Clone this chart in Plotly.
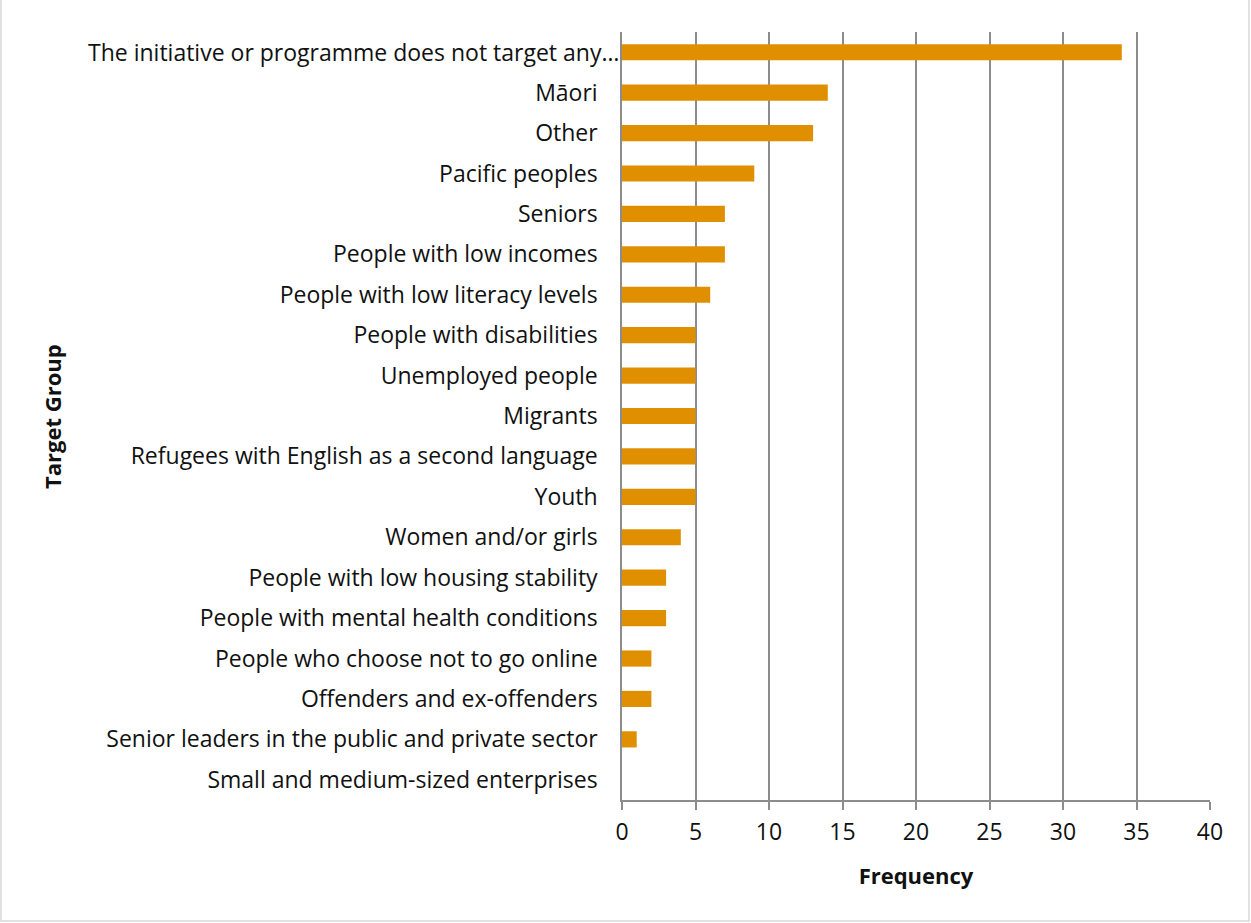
import plotly.graph_objects as go

categories = [
    "The initiative or programme does not target any…",
    "Māori",
    "Other",
    "Pacific peoples",
    "Seniors",
    "People with low incomes",
    "People with low literacy levels",
    "People with disabilities",
    "Unemployed people",
    "Migrants",
    "Refugees with English as a second language",
    "Youth",
    "Women and/or girls",
    "People with low housing stability",
    "People with mental health conditions",
    "People who choose not to go online",
    "Offenders and ex-offenders",
    "Senior leaders in the public and private sector",
    "Small and medium-sized enterprises",
]
frequency = [34, 14, 13, 9, 7, 7, 6, 5, 5, 5, 5, 5, 4, 3, 3, 2, 2, 1, 0]
x_ticks = [0, 5, 10, 15, 20, 25, 30, 35, 40]

W, H = 1251, 923
ML, MR, MT, MB = 622, 41, 32, 123
PW, PH = W - ML - MR, H - MT - MB

font_family = "Open Sans, Liberation Sans, sans-serif"
label_size = 23

fig = go.Figure(go.Bar(
    y=categories, x=frequency, orientation="h",
    marker=dict(color="#DF8F00", line=dict(width=0)),
    width=0.4,
))

# first (truncated) label sits closer to the axis, as in the reference
ticktext = [""] + categories[1:]

fig.update_layout(
    width=W, height=H,
    margin=dict(l=ML, r=MR, t=MT, b=MB, autoexpand=False),
    paper_bgcolor="white", plot_bgcolor="white",
    showlegend=False,
    font=dict(family=font_family, size=label_size, color="#111111"),
    xaxis=dict(
        range=[0, 40], tickvals=x_ticks, showgrid=True,
        gridcolor="#8C8C8C", gridwidth=1.5,
        showline=True, linecolor="#8C8C8C", linewidth=1.5,
        ticks="outside", ticklen=8, tickcolor="#8C8C8C", tickwidth=1.5,
        ticklabelstandoff=3,
        zeroline=False,
        tickfont=dict(size=23),
        title=dict(text="<b>Frequency</b>", font=dict(size=22), standoff=22),
    ),
    yaxis=dict(
        autorange="reversed", showgrid=False,
        tickvals=categories, ticktext=ticktext,
        showline=True, linecolor="#8C8C8C", linewidth=1.5,
        ticks="outside", ticklen=18, tickcolor="rgba(0,0,0,0)",
        tickfont=dict(size=label_size),
    ),
    annotations=[
        dict(text=categories[0], x=0, y=categories[0], xref="x", yref="y",
             xanchor="right", yanchor="middle", xshift=-1, showarrow=False,
             font=dict(size=label_size)),
        dict(text="<b>Target Group</b>", x=(52 - ML) / PW, y=(H - MB - 417) / PH,
             xref="paper", yref="paper", xanchor="center", yanchor="middle",
             textangle=-90, showarrow=False, font=dict(size=22)),
    ],
    shapes=[dict(
        type="rect", xref="paper", yref="paper",
        x0=(1 - ML) / PW, x1=(W - 2 - ML) / PW,
        y0=-(MB - 2) / PH, y1=(H - MT - 1) / PH,
        line=dict(color="#D9D9D9", width=1.5), fillcolor="rgba(0,0,0,0)",
        layer="below",
    )],
)

fig.write_html("out.html", config={"displayModeBar": False},
               post_script="document.body.style.margin='0';document.body.style.overflow='hidden';")
